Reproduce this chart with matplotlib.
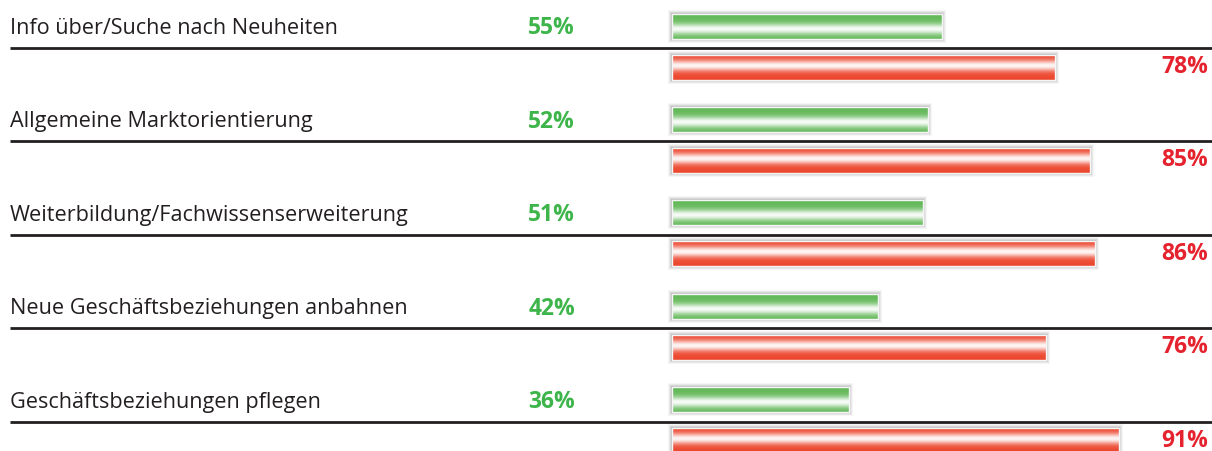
import numpy as np
import matplotlib
matplotlib.use("Agg")
import matplotlib.pyplot as plt
from matplotlib.patches import Rectangle
import matplotlib.transforms as mtransforms

# data
categories = [
    "Info über/Suche nach Neuheiten",
    "Allgemeine Marktorientierung",
    "Weiterbildung/Fachwissenserweiterung",
    "Neue Geschäftsbeziehungen anbahnen",
    "Geschäftsbeziehungen pflegen",
]
green_values = [55, 52, 51, 42, 36]
red_values = [78, 85, 86, 76, 91]

GREEN = "#3db54a"
RED = "#e5232e"
GREEN_BAR = np.array([100, 185, 90]) / 255
RED_BAR = np.array([236, 72, 48]) / 255

plt.rcParams["font.family"] = ["Open Sans", "DejaVu Sans"]

W, H = 1212, 452
fig = plt.figure(figsize=(W / 100, H / 100), dpi=100)
ax = fig.add_axes([0, 0, 1, 1])
ax.set_axis_off()

# percent axis: 0% at x=672 px, ~4.915 px per percent
px_per = 4.915
x0 = 672
ax.set_xlim(-x0 / px_per, (W - x0) / px_per)
ax.set_ylim(H, 0)

fig_x = mtransforms.blended_transform_factory(fig.transFigure, ax.transData)

step = 93.4
bar_h = 25


def gradient_bar(y, value, base, peak):
    left, bottom = 0, y - bar_h / 2
    # soft gray shadow
    for k, a in [(4.0, 0.07), (3.0, 0.10), (2.0, 0.15), (1.0, 0.22)]:
        ax.add_patch(Rectangle((left - k / px_per, bottom - k), value + 2 * k / px_per,
                               bar_h + 2 * k, facecolor="#7a7a7a", alpha=a,
                               edgecolor="none", zorder=2))
    t = np.linspace(0, 1, 64)
    w = 0.95 * np.exp(-((t - peak) / 0.22) ** 2)
    col = base[None, :] * (1 - w[:, None]) + w[:, None]
    img = np.repeat(col[:, None, :], 2, axis=1)
    ax.imshow(img, extent=(left, value, bottom + bar_h, bottom), aspect="auto",
              interpolation="bilinear", zorder=3)
    ax.add_patch(Rectangle((left, bottom), value, bar_h, facecolor="none",
                           edgecolor="#f6f6f6", lw=1.0, zorder=4))


for i, cat in enumerate(categories):
    yg = 27 + step * i
    yr = yg + 41
    yl = yg + 22
    ax.text(10 / W, yg + 1.5, cat, transform=fig_x, ha="left", va="center",
            fontsize=15.6, color="#231f20")
    ax.text(575 / W, yg + 1.5, f"{green_values[i]}%", transform=fig_x, ha="right",
            va="center", fontsize=16.5, fontweight="bold", color=GREEN)
    ax.text(1208 / W, yr - 1, f"{red_values[i]}%", transform=fig_x, ha="right",
            va="center", fontsize=16.5, fontweight="bold", color=RED)
    ax.plot([10 / W, 1.0], [yl, yl], transform=fig_x, color="#231f20", lw=2.0,
            solid_capstyle="butt", zorder=1)
    gradient_bar(yg, green_values[i], GREEN_BAR, 0.6)
    gradient_bar(yr, red_values[i], RED_BAR, 0.42)

ax.set_xlim(-x0 / px_per, (W - x0) / px_per)
ax.set_ylim(H, 0)
fig.savefig("out.png", dpi=100, facecolor="white")
